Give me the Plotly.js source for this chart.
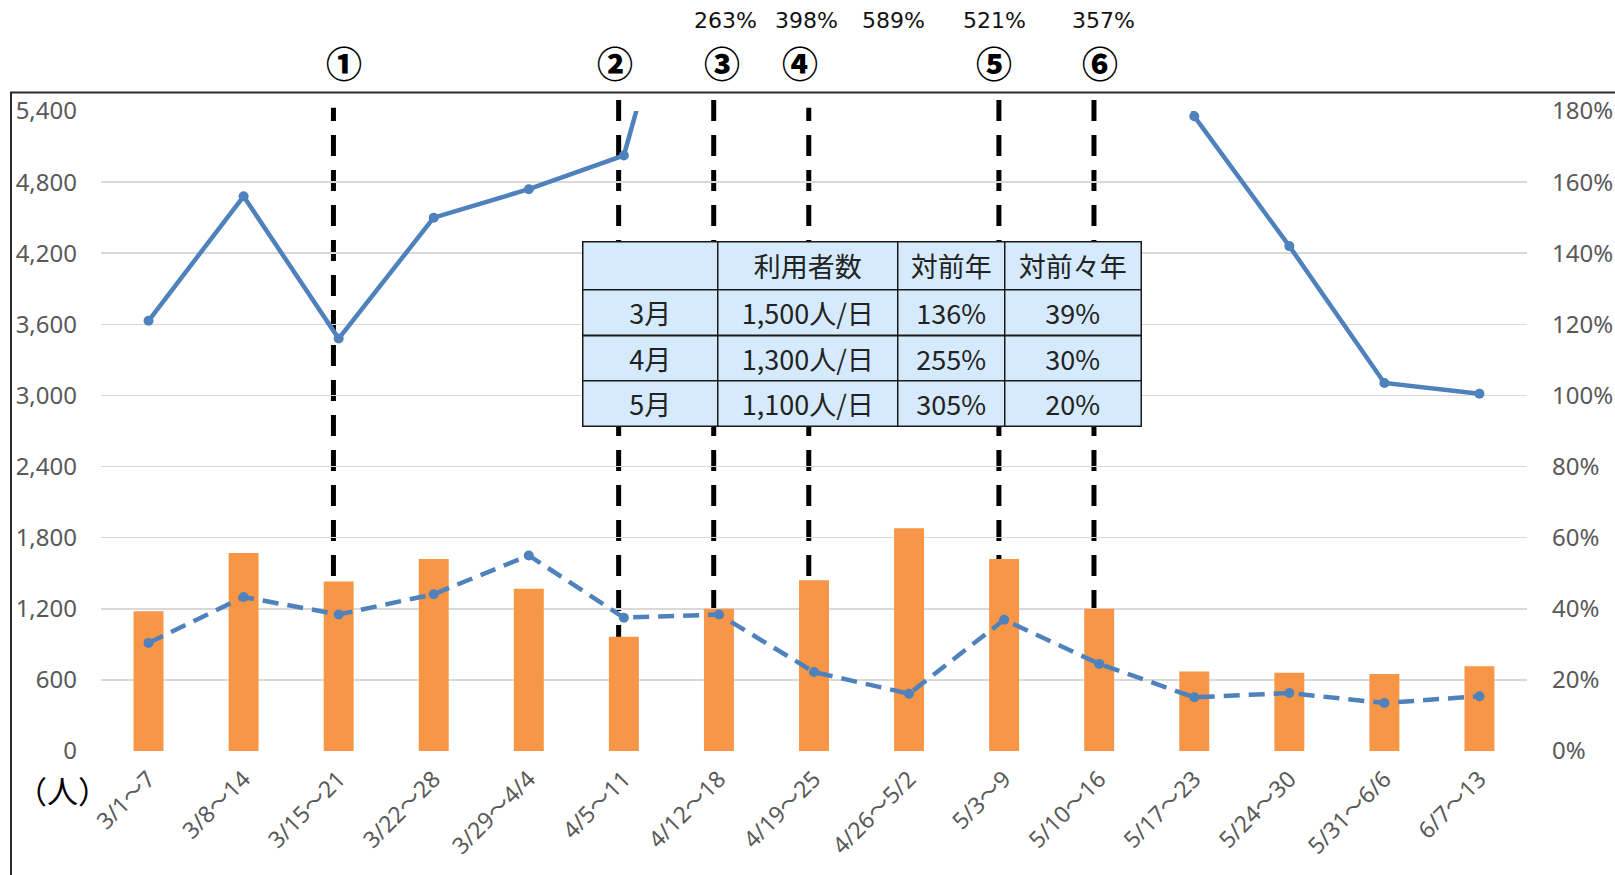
<!DOCTYPE html>
<html>
<head>
<meta charset="utf-8">
<script src="https://cdn.plot.ly/plotly-3.0.1.min.js"></script>
<style>
  html, body { margin: 0; padding: 0; background: #fff; }
  #chart { width: 1615px; height: 875px; }
</style>
</head>
<body>
<div id="chart"></div>
<script>
// ---- data ----
const weeks = ['3/1～7','3/8～14','3/15～21','3/22～28','3/29～4/4','4/5～11','4/12～18','4/19～25','4/26～5/2','5/3～9','5/10～16','5/17～23','5/24～30','5/31～6/6','6/7～13'];
const users = [1180, 1670, 1430, 1620, 1370, 965, 1200, 1440, 1880, 1620, 1200, 670, 660, 650, 715];
const yoyPct = [121, 156, 116, 150, 158, 167.5, 263, 398, 589, 521, 357, 178.5, 142, 103.5, 100.5];
const twoYearPct = [30.4, 43.3, 38.4, 44.1, 55.0, 37.5, 38.4, 22.2, 16.1, 36.9, 24.5, 15.1, 16.3, 13.5, 15.4];

const eventWeeks = ['3/15～21', '4/5～11', '4/12～18', '4/19～25', '5/3～9', '5/10～16'];
const eventLabels = ['①', '②', '③', '④', '⑤', '⑥'];

const leftTicks = [0, 600, 1200, 1800, 2400, 3000, 3600, 4200, 4800, 5400];
const rightTicks = [0, 0.2, 0.4, 0.6, 0.8, 1.0, 1.2, 1.4, 1.6, 1.8];

const tableHeader = ['', '利用者数', '対前年', '対前々年'];
const tableMonths = ['3月', '4月', '5月'];
const tableUsers = ['1,500人/日', '1,300人/日', '1,100人/日'];
const tableYoy = ['136%', '255%', '305%'];
const tableTwoYear = ['39%', '30%', '20%'];

// ---- styles ----
const BLUE = '#4f81bd';
const ORANGE = '#f79646';
const GRID = '#d9d9d9';
const TICK = '#595959';
const CELL_BG = '#d5eafc';
const eventLabelShift = [5, -9, 3, -14, -10, 1];
const eventLineTop = [1.005, 1.027, 1.022, 1.005, 1.027, 1.022];
const pctLabelShift = [7, -8, -16, -10, 4];
const LEFT = 101, PW = 1426, TOP = 111, PH = 640;
const tableLeft = 583, tableTop = 242;
const colW = [135, 180, 107, 136];
const rowH = [48, 45.5, 45.5, 45.5];
const px2x = p => (p - LEFT) / PW;
const py2y = p => (TOP + PH - p) / PH;

const traces = [
  {
    type: 'bar', x: weeks, y: users, yaxis: 'y',
    marker: { color: ORANGE }, name: '利用者数'
  },
  {
    type: 'scatter', mode: 'lines+markers', x: weeks, y: yoyPct.map(v => v / 100), yaxis: 'y2',
    line: { color: BLUE, width: 4.5 }, marker: { color: BLUE, size: 10 }, name: '対前年'
  },
  {
    type: 'scatter', mode: 'lines+markers', x: weeks, y: twoYearPct.map(v => v / 100), yaxis: 'y2',
    line: { color: BLUE, width: 4.5, dash: '16px,9px' }, marker: { color: BLUE, size: 10 }, name: '対前々年'
  }
];

const shapes = [];
eventWeeks.forEach((w, i) => {
  const idx = weeks.indexOf(w);
  shapes.push({
    type: 'line', layer: 'between', xref: 'x', yref: 'paper',
    x0: idx - 0.055, x1: idx - 0.055, y0: 0, y1: eventLineTop[i],
    line: { color: '#000', width: 5, dash: '21px,14px' }
  });
});
// outer chart frame
shapes.push({
  type: 'rect', layer: 'above', xref: 'paper', yref: 'paper',
  x0: px2x(11), x1: 1.3, y0: -0.6, y1: py2y(92.5),
  line: { color: '#2b2b2b', width: 2 }, fillcolor: 'rgba(0,0,0,0)'
});

const annotations = [];
eventWeeks.forEach((w, i) => {
  annotations.push({
    xref: 'x', yref: 'paper', x: weeks.indexOf(w), y: py2y(62),
    xshift: eventLabelShift[i], text: eventLabels[i], showarrow: false,
    xanchor: 'center', yanchor: 'middle',
    font: { family: 'Noto Sans CJK JP', size: 36, color: '#000', weight: 900 }
  });
});
let k = 0;
yoyPct.forEach((v, i) => {
  if (v > 180) {
    annotations.push({
      xref: 'x', yref: 'paper', x: i, y: py2y(20),
      xshift: pctLabelShift[k++] || 0, text: Math.round(v) + '%', showarrow: false,
      xanchor: 'center', yanchor: 'middle',
      font: { family: 'DejaVu Sans', size: 22, color: '#111' }
    });
  }
});
annotations.push({
  xref: 'paper', yref: 'paper', x: px2x(62), y: py2y(789),
  text: '（人）', showarrow: false, xanchor: 'center', yanchor: 'middle',
  font: { family: 'Noto Sans CJK JP', size: 31, color: '#000' }
});

// summary table drawn as a grid of bordered text boxes
const tableCols = [
  [tableHeader[0]].concat(tableMonths),
  [tableHeader[1]].concat(tableUsers),
  [tableHeader[2]].concat(tableYoy),
  [tableHeader[3]].concat(tableTwoYear)
];
let cx = tableLeft;
tableCols.forEach((col, c) => {
  let cy = tableTop;
  col.forEach((txt, r) => {
    annotations.push({
      xref: 'paper', yref: 'paper',
      x: px2x(cx + colW[c] / 2), y: py2y(cy + rowH[r] / 2),
      xanchor: 'center', yanchor: 'middle', showarrow: false,
      width: colW[c] - 1.5, height: rowH[r] - 1.5, borderpad: 0,
      bgcolor: CELL_BG, bordercolor: '#1a1a1a', borderwidth: 1.5,
      align: 'center', valign: 'middle',
      text: txt,
      font: { family: 'Noto Sans CJK JP', size: 27, color: '#222' }
    });
    cy += rowH[r];
  });
  cx += colW[c];
});

const layout = {
  width: 1615, height: 875,
  margin: { l: LEFT, r: 1615 - LEFT - PW, t: TOP, b: 875 - TOP - PH, pad: 0 },
  paper_bgcolor: '#fff', plot_bgcolor: '#fff',
  showlegend: false,
  bargap: 0.685,
  font: { family: 'Noto Sans, Noto Sans CJK JP, sans-serif', color: TICK },
  xaxis: {
    type: 'category', range: [-0.5, weeks.length - 0.5], tickangle: -45,
    showgrid: false, zeroline: false, showline: false,
    ticks: '', ticklabelstandoff: 9,
    tickfont: { family: 'Noto Sans, Noto Sans CJK JP', size: 23, color: TICK }
  },
  yaxis: {
    range: [0, 5400], tickvals: leftTicks, tickformat: ',d',
    showgrid: true, gridcolor: GRID, gridwidth: 1.5, zeroline: false, showline: false,
    ticks: '', ticklabelstandoff: 23,
    tickfont: { family: 'Noto Sans', size: 24, color: TICK }
  },
  yaxis2: {
    range: [0, 1.8], tickvals: rightTicks, tickformat: '.0%', overlaying: 'y', side: 'right',
    showgrid: false, zeroline: false, showline: false, ticks: '', ticklabelstandoff: 24,
    tickfont: { family: 'Noto Sans', size: 24, color: TICK }
  },
  shapes: shapes,
  annotations: annotations
};

Plotly.newPlot('chart', traces, layout, { displayModeBar: false, staticPlot: true });
</script>
</body>
</html>
